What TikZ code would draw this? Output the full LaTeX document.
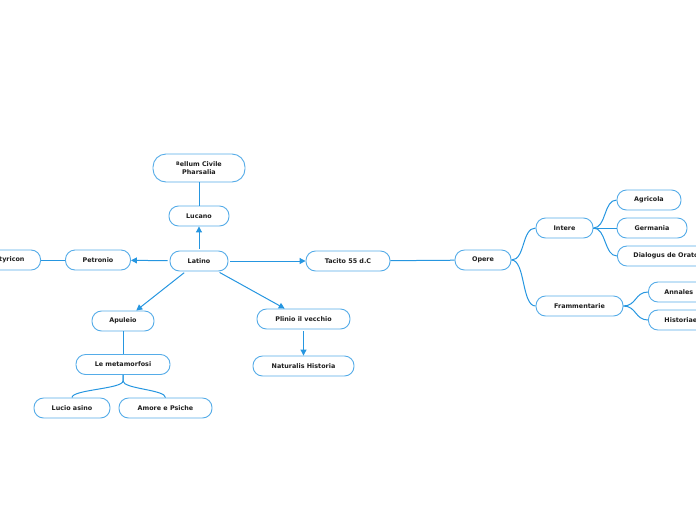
\documentclass[tikz,border=0pt]{standalone}
\usepackage{fontspec}
\setmainfont{DejaVu Sans}
\usetikzlibrary{arrows.meta,calc}
\definecolor{nodeb}{RGB}{85,172,232}
\definecolor{linec}{RGB}{38,150,224}
\definecolor{txt}{RGB}{30,30,30}
\tikzset{
  box/.style={draw=nodeb, line width=0.9pt, fill=white, rounded corners=9.5pt,
    inner sep=0pt, minimum height=20pt, text=txt,
    font=\fontsize{6.4}{7.5}\selectfont\bfseries},
  cut/.style={box, inner xsep=16pt},
  conn/.style={draw=linec, line width=1pt},
  arr/.style={conn, -{Triangle[length=6pt,width=6pt]}, shorten <=2pt},
}
\begin{document}
\begin{tikzpicture}[x=1pt,y=-1pt]
\useasboundingbox (0,0) rectangle (696,520);
% nodes
\node[box, minimum width=92pt, minimum height=28pt, rounded corners=13pt, align=center] (bellum) at (199,168)
  {\raisebox{1pt}{\fontsize{4.8}{5}\selectfont B}ellum Civile\\Pharsalia};
\node[box, minimum width=60pt] (lucano) at (199,216) {Lucano};
\node[box, minimum width=58pt] (latino) at (199,261) {Latino};
\node[box, minimum width=65pt] (petronio) at (98,260) {Petronio};
\node[cut, anchor=east] (satyricon) at (41,260) {Satyricon};
\node[box, minimum width=84pt] (tacito) at (348,261) {Tacito 55 d.C};
\node[box, minimum width=56pt] (opere) at (483,260) {Opere};
\node[box, minimum width=57pt] (intere) at (564.5,228) {Intere};
\node[box, minimum width=87pt] (framm) at (579.5,306) {Frammentarie};
\node[box, minimum width=64pt] (agricola) at (649,200) {Agricola};
\node[box, minimum width=70pt] (germania) at (652,228) {Germania};
\node[cut, anchor=west] (dialogus) at (617,256) {Dialogus de Oratoribus};
\node[cut, anchor=west] (annales) at (648,292) {Annales};
\node[cut, anchor=west] (historiae) at (648,320) {Historiae};
\node[box, minimum width=62pt] (apuleio) at (123,321) {Apuleio};
\node[box, minimum width=94pt] (metam) at (123,364.5) {Le metamorfosi};
\node[box, minimum width=76pt] (lucio) at (72,408) {Lucio asino};
\node[box, minimum width=93pt] (amore) at (165.5,408) {Amore e Psiche};
\node[box, minimum width=93pt] (plinio) at (303.5,319) {Plinio il vecchio};
\node[box, minimum width=101pt] (natur) at (303.5,366) {Naturalis Historia};
% connectors
\draw[arr] (latino) -- (lucano);
\draw[conn] (lucano) -- (bellum);
\draw[arr] (latino) -- (petronio);
\draw[conn] (petronio) -- (satyricon);
\draw[arr] (latino) -- (tacito);
\draw[arr] (latino) -- (apuleio);
\draw[arr] (latino) -- (plinio);
\draw[arr] (plinio) -- (natur);
\draw[conn] (apuleio) -- (metam);
\draw[conn] (metam.south) -- ++(0,6) .. controls ++(0,8) and ($(lucio.north)+(0,-8)$) .. (lucio.north);
\draw[conn] (metam.south) -- ++(0,6) .. controls ++(0,8) and ($(amore.north)+(0,-8)$) .. (amore.north);
\draw[conn] (tacito) -- (opere);
\draw[conn] (opere.east) .. controls ++(14,0) and ($(intere.west)+(-14,0)$) .. (intere.west);
\draw[conn] (opere.east) .. controls ++(14,0) and ($(framm.west)+(-14,0)$) .. (framm.west);
\draw[conn] (intere.east) .. controls ++(13,0) and ($(agricola.west)+(-13,0)$) .. (agricola.west);
\draw[conn] (intere.east) -- (germania.west);
\draw[conn] (intere.east) .. controls ++(13,0) and ($(dialogus.west)+(-13,0)$) .. (dialogus.west);
\draw[conn] (framm.east) .. controls ++(13,0) and ($(annales.west)+(-13,0)$) .. (annales.west);
\draw[conn] (framm.east) .. controls ++(13,0) and ($(historiae.west)+(-13,0)$) .. (historiae.west);
\end{tikzpicture}
\end{document}
